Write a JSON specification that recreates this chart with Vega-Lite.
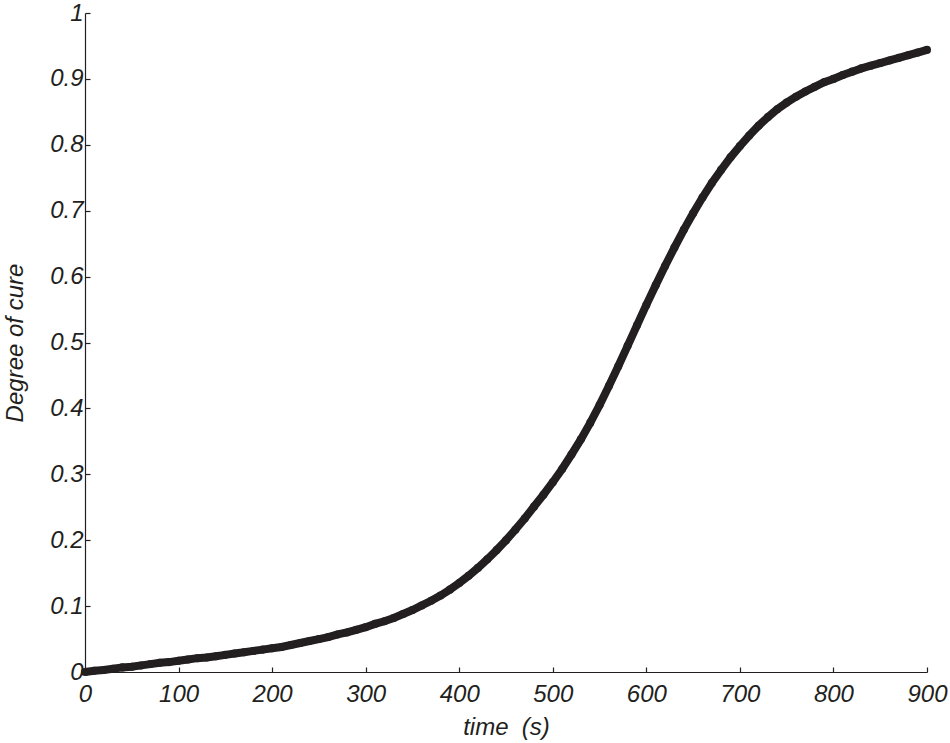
{
  "$schema": "https://vega.github.io/schema/vega-lite/v6.json",
  "width": 842,
  "height": 659,
  "autosize": {"type": "none"},
  "padding": {"left": 85, "top": 13, "right": 23, "bottom": 71},
  "background": "white",
  "config": {
    "view": {"stroke": null},
    "axis": {
      "labelFont": "Liberation Sans",
      "titleFont": "Liberation Sans",
      "labelFontStyle": "italic",
      "titleFontStyle": "italic",
      "titleFontWeight": "normal",
      "labelFontSize": 24,
      "titleFontSize": 24,
      "labelColor": "#231f20",
      "titleColor": "#231f20",
      "domainColor": "#231f20",
      "tickColor": "#231f20",
      "domainWidth": 1.2,
      "tickWidth": 1.2,
      "tickSize": -5,
      "labelFlush": false,
      "labelOverlap": false,
      "grid": false
    }
  },
  "data": {
    "values": [
      {"t": 0, "a": 0.000}, {"t": 10, "a": 0.002}, {"t": 20, "a": 0.003}, {"t": 30, "a": 0.005},
      {"t": 40, "a": 0.007}, {"t": 50, "a": 0.008}, {"t": 60, "a": 0.010}, {"t": 70, "a": 0.012},
      {"t": 80, "a": 0.014}, {"t": 90, "a": 0.015}, {"t": 100, "a": 0.017}, {"t": 110, "a": 0.019},
      {"t": 120, "a": 0.021}, {"t": 130, "a": 0.022}, {"t": 140, "a": 0.024}, {"t": 150, "a": 0.026},
      {"t": 160, "a": 0.028}, {"t": 170, "a": 0.030}, {"t": 180, "a": 0.032}, {"t": 190, "a": 0.034},
      {"t": 200, "a": 0.036}, {"t": 210, "a": 0.038}, {"t": 220, "a": 0.041}, {"t": 230, "a": 0.044},
      {"t": 240, "a": 0.047}, {"t": 250, "a": 0.050}, {"t": 260, "a": 0.053}, {"t": 270, "a": 0.057},
      {"t": 280, "a": 0.060}, {"t": 290, "a": 0.064}, {"t": 300, "a": 0.068}, {"t": 310, "a": 0.073},
      {"t": 320, "a": 0.077}, {"t": 330, "a": 0.082}, {"t": 340, "a": 0.088}, {"t": 350, "a": 0.094},
      {"t": 360, "a": 0.101}, {"t": 370, "a": 0.108}, {"t": 380, "a": 0.116}, {"t": 390, "a": 0.125},
      {"t": 400, "a": 0.135}, {"t": 410, "a": 0.146}, {"t": 420, "a": 0.158}, {"t": 430, "a": 0.171},
      {"t": 440, "a": 0.185}, {"t": 450, "a": 0.200}, {"t": 460, "a": 0.216}, {"t": 470, "a": 0.233},
      {"t": 480, "a": 0.251}, {"t": 490, "a": 0.269}, {"t": 500, "a": 0.288}, {"t": 510, "a": 0.308},
      {"t": 520, "a": 0.330}, {"t": 530, "a": 0.353}, {"t": 540, "a": 0.378}, {"t": 550, "a": 0.405},
      {"t": 560, "a": 0.434}, {"t": 570, "a": 0.464}, {"t": 580, "a": 0.495}, {"t": 590, "a": 0.526},
      {"t": 600, "a": 0.557}, {"t": 610, "a": 0.587}, {"t": 620, "a": 0.616}, {"t": 630, "a": 0.644},
      {"t": 640, "a": 0.671}, {"t": 650, "a": 0.696}, {"t": 660, "a": 0.720}, {"t": 670, "a": 0.742},
      {"t": 680, "a": 0.762}, {"t": 690, "a": 0.781}, {"t": 700, "a": 0.798}, {"t": 710, "a": 0.814},
      {"t": 720, "a": 0.829}, {"t": 730, "a": 0.842}, {"t": 740, "a": 0.854}, {"t": 750, "a": 0.864},
      {"t": 760, "a": 0.873}, {"t": 770, "a": 0.881}, {"t": 780, "a": 0.888}, {"t": 790, "a": 0.895},
      {"t": 800, "a": 0.900}, {"t": 810, "a": 0.906}, {"t": 820, "a": 0.911}, {"t": 830, "a": 0.916},
      {"t": 840, "a": 0.920}, {"t": 850, "a": 0.924}, {"t": 860, "a": 0.928}, {"t": 870, "a": 0.932},
      {"t": 880, "a": 0.936}, {"t": 890, "a": 0.940}, {"t": 900, "a": 0.944}
    ]
  },
  "encoding": {
    "x": {
      "field": "t", "type": "quantitative",
      "scale": {"domain": [0, 900], "nice": false, "zero": false},
      "axis": {"title": "time\u00a0\u00a0(s)", "values": [0, 100, 200, 300, 400, 500, 600, 700, 800, 900], "labelPadding": 15, "titlePadding": 9}
    },
    "y": {
      "field": "a", "type": "quantitative",
      "scale": {"domain": [0, 1], "nice": false},
      "axis": {"title": "Degree of cure", "format": "~g", "values": [0, 0.1, 0.2, 0.3, 0.4, 0.5, 0.6, 0.7, 0.8, 0.9, 1], "labelPadding": 7, "titlePadding": 22}
    }
  },
  "layer": [
    {"mark": {"type": "line", "color": "#231f20", "strokeWidth": 8, "clip": false}},
    {"mark": {"type": "circle", "color": "#231f20", "opacity": 1, "size": 65, "clip": false}}
  ]
}
